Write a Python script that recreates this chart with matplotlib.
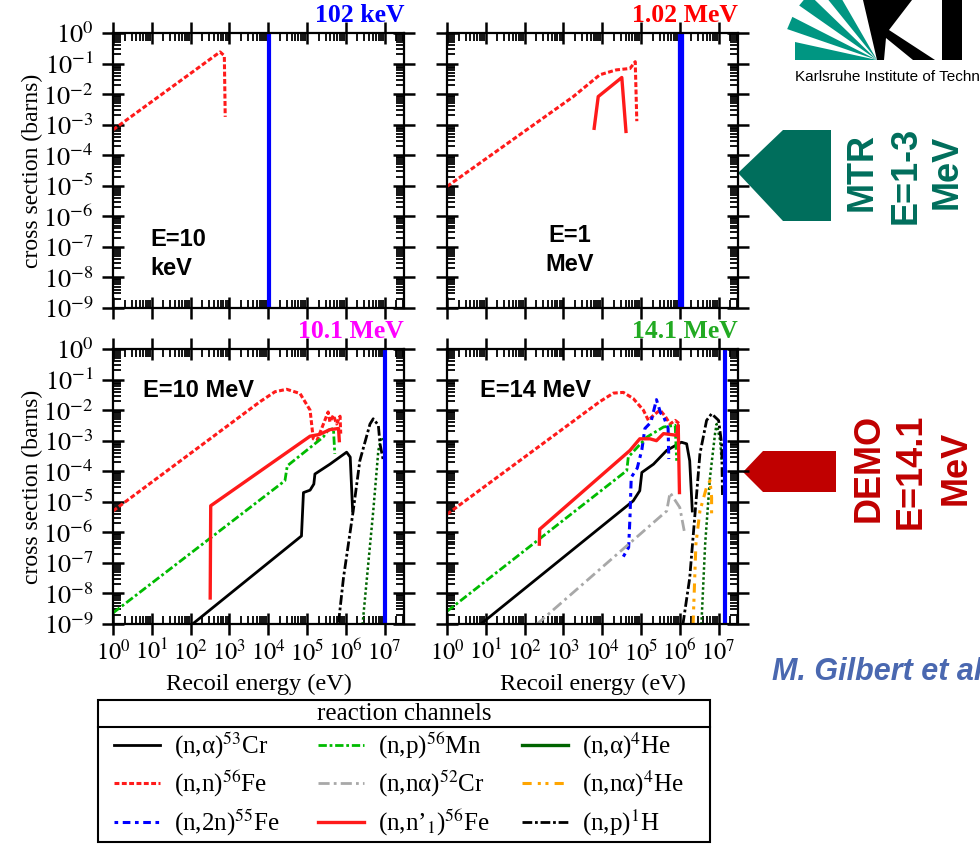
import matplotlib.pyplot as plt
import numpy as np
from matplotlib.ticker import LogLocator, FuncFormatter, NullFormatter
from matplotlib.lines import Line2D
from matplotlib.patches import Polygon, Rectangle

plt.rcParams['font.family'] = 'serif'
plt.rcParams['font.serif'] = ['Liberation Serif', 'DejaVu Serif']
plt.rcParams['mathtext.fontset'] = 'stix'

# ---------------- data: recoil energy (eV) vs cross section (barns) ----------------
# panel 1 : E = 10 keV
p1_nn_fe_x = [1, 575, 740, 780]
p1_nn_fe_y = [6.8e-4, 0.24, 0.18, 1.8e-3]

# panel 2 : E = 1 MeV
p2_nn_fe_x = [1, 1.8e3, 8.7e3, 2.3e4, 5.2e4, 7.1e4, 7.8e4]
p2_nn_fe_y = [9.5e-6, 8.3e-3, 4.3e-2, 6.2e-2, 6.9e-2, 1.15e-1, 1.3e-3]
p2_nn1_fe_x = [6.2e3, 7.9e3, 3.2e4, 4.1e4]
p2_nn1_fe_y = [7.6e-4, 8.3e-3, 3.5e-2, 6.0e-4]

# panel 3 : E = 10 MeV
p3_nn_fe_x = [1, 6.2e3, 1.5e4, 3.0e4, 6.6e4, 1.2e5, 1.45e5, 1.8e5, 3.5e5, 3.9e5, 4.8e5, 5.8e5, 7.1e5, 7.4e5]
p3_nn_fe_y = [5.0e-6, 1.9e-2, 4.0e-2, 4.8e-2, 3.5e-2, 1.0e-2, 1.15e-3, 1.0e-3, 8.7e-3, 4.1e-3, 6.8e-3, 3.5e-3, 6.3e-3, 1.7e-3]
p3_nn1_fe_x = [3.2e2, 3.3e2, 3.6e4, 1.2e5, 2.1e5, 3.9e5, 6.5e5, 6.8e5]
p3_nn1_fe_y = [7.1e-9, 7.4e-6, 4.8e-4, 1.4e-3, 1.6e-3, 2.3e-3, 2.5e-3, 1.0e-3]
p3_np_mn_x = [1, 2.7e4, 3.1e4, 2.6e5, 3.5e5, 4.8e5, 5.2e5]
p3_np_mn_y = [2.3e-9, 4.9e-5, 1.5e-4, 1.3e-3, 2.2e-3, 2.5e-3, 3.7e-4]
p3_na_cr_x = [1.07e2, 7.2e4, 8.1e4, 1.2e5, 1.5e5, 1.6e5, 3.9e5, 1.05e6, 1.3e6, 1.5e6]
p3_na_cr_y = [9.5e-10, 7.6e-7, 2.0e-5, 2.4e-5, 3.8e-5, 8.1e-5, 1.7e-4, 4.2e-4, 2.9e-4, 5.0e-6]
p3_np_h_x = [6.5e5, 8.7e5, 1.55e6, 2.3e6, 4.2e6, 5.1e6, 6.9e6, 7.6e6, 9.3e6]
p3_np_h_y = [1.1e-9, 3.2e-8, 5.0e-6, 2.2e-4, 3.5e-3, 5.2e-3, 3.2e-3, 7.9e-4, 2.2e-4]
p3_na_he_x = [2.7e6, 3.5e6, 5.1e6, 6.9e6, 8.3e6, 1.0e7, 1.0e7]
p3_na_he_y = [9.5e-10, 3.2e-8, 5.0e-6, 4.8e-4, 1.3e-3, 1.0e-3, 2.9e-4]

# panel 4 : E = 14 MeV
p4_nn_fe_x = [1, 8.7e3, 1.95e4, 3.5e4, 6.3e4, 1.15e5, 1.55e5, 2.1e5, 3.1e5, 4.2e5, 5.6e5, 7.6e5, 1.0e6]
p4_nn_fe_y = [3.9e-6, 1.9e-2, 3.6e-2, 3.8e-2, 2.4e-2, 1.0e-2, 4.6e-3, 6.8e-3, 1.0e-2, 6.3e-3, 3.5e-3, 4.6e-3, 3.5e-3]
p4_n2n_fe_x = [3.5e4, 4.8e4, 5.2e4, 5.6e4, 8.0e4, 1.05e5, 1.26e5, 1.8e5, 2.5e5, 3.2e5, 3.8e5, 5.0e5, 5.2e5]
p4_n2n_fe_y = [1.6e-7, 3.2e-7, 3.2e-6, 6.3e-5, 1.26e-4, 5.0e-4, 2.5e-3, 4.0e-3, 2.2e-2, 8.0e-3, 6.3e-3, 2.5e-3, 2.5e-4]
p4_nn1_fe_x = [2.4e2, 2.45e2, 5.2e4, 9.3e4, 1.7e5, 2.5e5, 3.8e5, 8.3e5, 9.1e5, 9.8e5]
p4_nn1_fe_y = [4.1e-7, 1.26e-6, 4.8e-4, 1.15e-3, 1.15e-3, 1.0e-3, 1.7e-3, 1.5e-3, 3.2e-3, 2.0e-5]
p4_np_mn_x = [1, 4.3e4, 4.7e4, 1.4e5, 3.8e5, 7.6e5, 8.3e5]
p4_np_mn_y = [2.6e-9, 1.05e-4, 2.9e-4, 1.3e-3, 2.8e-3, 3.2e-3, 2.2e-4]
p4_na_cr_x = [7.1, 6.3e4, 9.3e4, 1.05e5, 2.1e5, 4.6e5, 1.1e6, 1.5e6, 1.8e6, 2.1e6]
p4_na_cr_y = [9.5e-10, 1.07e-5, 2.3e-5, 9.1e-5, 1.7e-4, 4.8e-4, 8.9e-4, 7.9e-4, 2.2e-4, 5.0e-6]
p4_nna_cr_x = [2.0e2, 4.6e5, 5.6e5, 1.0e6, 1.2e6, 1.35e6]
p4_nna_cr_y = [9.5e-10, 5.0e-6, 2.0e-5, 6.5e-6, 1.9e-6, 8.7e-7]
p4_np_h_x = [1.2e6, 1.8e6, 2.5e6, 3.3e6, 4.9e6, 6.6e6, 1.0e7, 1.2e7, 1.26e7]
p4_np_h_y = [9.5e-10, 3.2e-8, 5.0e-6, 3.7e-4, 4.6e-3, 7.6e-3, 4.6e-3, 7.9e-4, 1.4e-5]
p4_nna_he_x = [2.2e6, 2.6e6, 3.3e6, 4.9e6, 6.0e6, 6.6e6, 6.6e6]
p4_nna_he_y = [9.5e-10, 4.1e-7, 5.0e-6, 3.0e-5, 4.9e-5, 1.4e-5, 3.2e-6]
p4_na_he_x = [3.6e6, 4.5e6, 6.0e6, 8.1e6, 8.9e6, 1.1e7, 1.2e7]
p4_na_he_y = [9.5e-10, 4.1e-7, 6.3e-5, 1.7e-3, 3.5e-3, 1.0e-3, 2.2e-4]

titles = ['102 keV', '1.02 MeV', '10.1 MeV', '14.1 MeV']
title_colors = ['#0000ff', '#ff0000', '#ff00ff', '#22aa22']
max_recoil = [1.05e4, 1.05e6, 1.0e7, 1.45e7]
max_recoil_lw = [3, 4.5, 3, 3]
energy_text = ['E=10\nkeV', 'E=1\nMeV', 'E=10 MeV', 'E=14 MeV']

channels = ['na_cr', 'nn_fe', 'n2n_fe', 'np_mn', 'nna_cr', 'nn1_fe', 'na_he', 'nna_he', 'np_h']
channel_labels = ['(n,α)$^{53}$Cr', '(n,n)$^{56}$Fe', '(n,2n)$^{55}$Fe',
                  '(n,p)$^{56}$Mn', '(n,nα)$^{52}$Cr', '(n,n’$_{1}$)$^{56}$Fe',
                  '(n,α)$^{4}$He', '(n,nα)$^{4}$He', '(n,p)$^{1}$H']

styles = {
    'na_cr':  dict(color='black', ls='-', lw=2.0),
    'nn_fe':  dict(color='#ff1a1a', ls=(0, (1.6, 0.8)), lw=2.2),
    'n2n_fe': dict(color='#0000ff', ls=(0, (1.2, 1.5, 2.5, 1.5)), lw=2.2),
    'np_mn':  dict(color='#00bb00', ls=(0, (3, 1, 1, 1)), lw=2.0),
    'nna_cr': dict(color='#a8a8a8', ls=(0, (4, 1.5, 1, 1.5)), lw=2.0),
    'nn1_fe': dict(color='#ff1a1a', ls='-', lw=2.4),
    'na_he':  dict(color='#006400', ls=(0, (1, 1)), lw=1.8),
    'nna_he': dict(color='#ffa500', ls=(0, (3, 2, 1, 1.5, 1, 2)), lw=2.2),
    'np_h':   dict(color='black', ls=(0, (3.5, 1, 1, 1)), lw=2.0),
}

panels = [
    {'nn_fe': (p1_nn_fe_x, p1_nn_fe_y)},
    {'nn_fe': (p2_nn_fe_x, p2_nn_fe_y), 'nn1_fe': (p2_nn1_fe_x, p2_nn1_fe_y)},
    {'nn_fe': (p3_nn_fe_x, p3_nn_fe_y), 'nn1_fe': (p3_nn1_fe_x, p3_nn1_fe_y),
     'np_mn': (p3_np_mn_x, p3_np_mn_y), 'na_cr': (p3_na_cr_x, p3_na_cr_y),
     'np_h': (p3_np_h_x, p3_np_h_y), 'na_he': (p3_na_he_x, p3_na_he_y)},
    {'nn_fe': (p4_nn_fe_x, p4_nn_fe_y), 'n2n_fe': (p4_n2n_fe_x, p4_n2n_fe_y),
     'nn1_fe': (p4_nn1_fe_x, p4_nn1_fe_y), 'np_mn': (p4_np_mn_x, p4_np_mn_y),
     'na_cr': (p4_na_cr_x, p4_na_cr_y), 'nna_cr': (p4_nna_cr_x, p4_nna_cr_y),
     'np_h': (p4_np_h_x, p4_np_h_y), 'nna_he': (p4_nna_he_x, p4_nna_he_y),
     'na_he': (p4_na_he_x, p4_na_he_y)},
]

W, H = 980, 844
fig = plt.figure(figsize=(W / 100, H / 100), dpi=100)

# axes boxes in pixels (left, top)
boxes = [(113, 33), (447, 33), (113, 349), (447, 349)]
bw, bh = 291, 275
text_pos = [(0.127, 0.196, 'left'), (0.423, 0.211, 'center'), (0.103, 0.85, 'left'), (0.113, 0.85, 'left')]

fmt = FuncFormatter(lambda v, p: r'$10^{%d}$' % int(round(np.log10(v))))

for i, (bx, by) in enumerate(boxes):
    ax = fig.add_axes([bx / W, 1 - (by + bh) / H, bw / W, bh / H])
    for ch in channels:
        if ch in panels[i]:
            x, y = panels[i][ch]
            ax.plot(x, y, **styles[ch])
    ax.axvline(max_recoil[i], color='#0000ff', lw=max_recoil_lw[i])
    ax.set_xscale('log')
    ax.set_yscale('log')
    ax.set_xlim(1, 10 ** 7.5)
    ax.set_ylim(1e-9, 1)
    for axis in (ax.xaxis, ax.yaxis):
        axis.set_major_locator(LogLocator(base=10, numticks=20))
        axis.set_minor_locator(LogLocator(base=10, subs=np.arange(2, 10), numticks=20))
        axis.set_minor_formatter(NullFormatter())
    ax.tick_params(which='major', direction='inout', length=16, width=1.8,
                   top=True, right=True)
    ax.tick_params(which='minor', direction='in', length=6, width=1.3,
                   top=True, right=True)
    ax.tick_params(axis='y', labelsize=19, pad=6)
    ax.tick_params(axis='x', labelsize=17.5, pad=3)
    for s in ax.spines.values():
        s.set_linewidth(1.6)
    if i % 2 == 0:
        ax.yaxis.set_major_formatter(fmt)
        ax.set_ylabel('cross section (barns)', fontsize=17)
        ax.yaxis.set_label_coords(-0.24, 0.5)
    else:
        ax.yaxis.set_major_formatter(NullFormatter())
    if i >= 2:
        ax.xaxis.set_major_formatter(fmt)
        ax.set_xlabel('Recoil energy (eV)', fontsize=17.5)
        ax.xaxis.set_label_coords(0.5, -0.18)
    else:
        ax.xaxis.set_major_formatter(NullFormatter())
    ax.text(1.0, 1.04, titles[i], transform=ax.transAxes, ha='right', va='baseline',
            color=title_colors[i], fontsize=18.5, fontweight='bold')
    tx, ty, tha = text_pos[i]
    ax.text(tx, ty, energy_text[i], transform=ax.transAxes, ha=tha, va='center',
            multialignment='center' if tha == 'center' else 'left',
            family='Liberation Sans', fontweight='bold', fontsize=17, linespacing=1.3)

# legend: three columns inside a boxed frame with title row
handles = [Line2D([0], [0], **styles[ch]) for ch in channels]
handles[6] = Line2D([0], [0], color='#006400', ls='-', lw=2.4)
col_x = [114, 318, 522]
for c in range(3):
    fig.legend(handles[3 * c:3 * c + 3], channel_labels[3 * c:3 * c + 3],
               loc='upper left', bbox_to_anchor=(col_x[c] / W, 1 - 731 / H),
               frameon=False, fontsize=18, borderpad=0, borderaxespad=0,
               handlelength=1.85, handletextpad=0.55, labelspacing=0.32)

# overlay in pixel coordinates for box, arrows and slide decorations
ov = fig.add_axes([0, 0, 1, 1], zorder=-1)
ov.set_xlim(0, W)
ov.set_ylim(H, 0)
ov.axis('off')
ov.add_patch(Rectangle((98, 700), 612, 142, fill=False, ec='black', lw=1.5))
ov.plot([98, 710], [727, 727], color='black', lw=1.5)
ov.text(404, 714, 'reaction channels', ha='center', va='center', fontsize=18)

# KIT logo (cut by the right edge as on the slide)
kit_green = '#009682'
tip = np.array([877, 60])
for a1, a2 in [(0, 12.4), (19, 27), (35, 44), (51, 60)]:
    r = 95
    pts = [tip, tip + r * np.array([-np.cos(np.radians(a1)), -np.sin(np.radians(a1))]),
           tip + r * np.array([-np.cos(np.radians(a2)), -np.sin(np.radians(a2))])]
    if a1 == 0:
        pts = [tip, (795, 60), (795, 42)]
    ov.add_patch(Polygon(pts, closed=True, color=kit_green, lw=0))
ov.add_patch(Polygon([(863, 0), (912, 0), (889, 30), (935, 60), (913, 60), (886, 38),
                      (884, 60), (877, 60)], closed=True, color='black', lw=0))
ov.add_patch(Rectangle((942, 0), 20, 60, color='black', lw=0))
ov.text(795, 77, 'Karlsruhe Institute of Technology', ha='left', va='center',
        family='Liberation Sans', fontsize=11)

# MTR arrow
mtr_col = '#006e5c'
ov.add_patch(Polygon([(738, 173), (783, 130), (831, 130), (831, 221), (783, 221)],
                     closed=True, color=mtr_col, lw=0))
for tx, ty, s in [(862, 172, 'MTR'), (906, 175, 'E=1-3'), (947, 172, 'MeV')]:
    ov.text(tx, ty, s, rotation=90, ha='center', va='center', color=mtr_col,
            family='Liberation Sans', fontweight='bold', fontsize=26)

# DEMO arrow
demo_col = '#c00000'
ov.add_patch(Polygon([(743, 472), (763, 451), (836, 451), (836, 492), (763, 492)],
                     closed=True, color=demo_col, lw=0))
for tx, ty, s in [(869, 468, 'DEMO'), (911, 471, 'E=14.1'), (956, 468, 'MeV')]:
    ov.text(tx, ty, s, rotation=90, ha='center', va='center', color=demo_col,
            family='Liberation Sans', fontweight='bold', fontsize=26)

ov.text(772, 672, 'M. Gilbert et al.', ha='left', va='center', color='#4a68b0',
        family='Liberation Sans', fontweight='bold', style='italic', fontsize=22)

fig.savefig('out.png', dpi=100)
